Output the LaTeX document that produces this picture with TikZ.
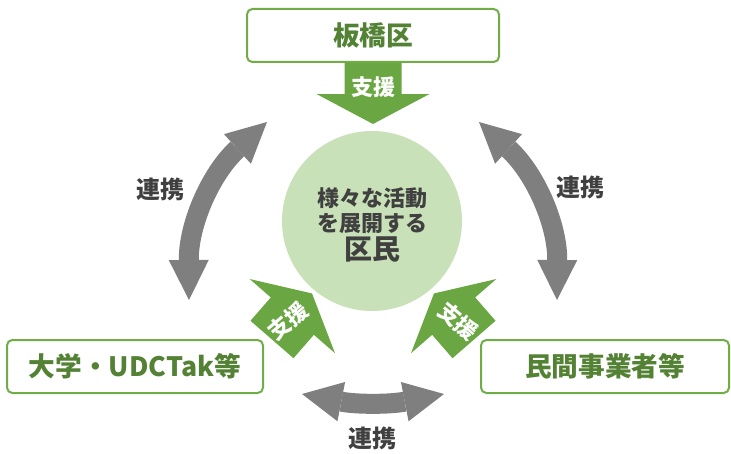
\documentclass[tikz,border=0pt]{standalone}
\usepackage{fontspec}
\setmainfont{Noto Sans CJK JP}
\usetikzlibrary{arrows.meta}

\definecolor{boxgreen}{RGB}{112,173,71}
\definecolor{titlegreen}{RGB}{84,130,53}
\definecolor{supportgreen}{RGB}{106,166,66}
\definecolor{hubgreen}{RGB}{201,225,184}
\definecolor{linkgray}{RGB}{127,127,127}
\definecolor{darktext}{RGB}{64,64,64}

\tikzset{
	body/.style={draw=boxgreen, line width=1.5pt, rounded corners=4pt, fill=white, text=titlegreen, font=\fontsize{20}{24}\selectfont\bfseries, minimum height=39.75pt, inner sep=0pt},
	hub/.style={circle, fill=hubgreen, minimum size=135pt, inner sep=0pt},
	link/.style={draw=linkgray, line width=15pt, {Triangle[length=30pt,width=30pt,line width=0pt]}-{Triangle[length=30pt,width=30pt,line width=0pt]}},
	linklabel/.style={text=darktext, font=\fontsize{18}{22}\selectfont\bfseries, inner sep=0.75pt},
	supporttext/.style={text=white, font=\fontsize{16.5}{20}\selectfont\bfseries, inner sep=0pt},
	support/.pic={
		\fill[supportgreen] (0,-28.5) -- (31,-28.5) -- (31,-56.5) -- (61,0) -- (31,56.5) -- (31,28.5) -- (0,28.5) -- cycle;
		\node[supporttext, rotate=#1] (-label) at (24,0) {支援};
	}
}
\tikzset{every picture/.style={line width=0.75pt}}

\begin{document}
\begin{tikzpicture}[x=0.75pt,y=0.75pt,yscale=-1,xscale=1]
	\useasboundingbox (0,0) rectangle (731,453);
	
	%Circle: residents
	\node[hub] (hub) at (372,221) {};
	\node[text=darktext, align=center, inner sep=0.75pt, font=\fontsize{16.5}{19}\selectfont\bfseries] (hubtext) at (372,225) {様々な活動\\を展開する\\[2pt]\fontsize{21}{24}\selectfont 区民};
	
	%Rounded Rect: bodies
	\node[body, minimum width=189pt] (ward) at (373,35.5) {板橋区};
	\node[body, minimum width=192pt] (univ) at (135,366.5) {大学・UDCTak等};
	\node[body, minimum width=186pt] (firms) at (605,366.5) {民間事業者等};
	
	%Block Arrows: support
	\pic[rotate=-90] (supw) at (ward.south) {support=0};
	\pic[rotate=49] (supu) at (272,339.5) {support=40};
	\pic[rotate=131] (supf) at (474,339.5) {support=-40};
	
	%Curved Arrows: cooperation
	\coordinate (lu) at (267,122);
	\coordinate (ld) at (189,300);
	\coordinate (ru) at (479,122);
	\coordinate (rd) at (557,300);
	\coordinate (bl) at (302,394);
	\coordinate (br) at (444,394);
	\draw[link] (lu) to[bend left=24] (ld);
	\draw[link] (ru) to[bend right=24] (rd);
	\draw[link] (bl) to[bend left=11] (br);
	
	% Text Node
	\node[linklabel] (linkl) at (160,189) {連携};
	% Text Node
	\node[linklabel] (linkr) at (580,187) {連携};
	% Text Node
	\node[linklabel] (linkb) at (372,438) {連携};
	
\end{tikzpicture}
\end{document}
